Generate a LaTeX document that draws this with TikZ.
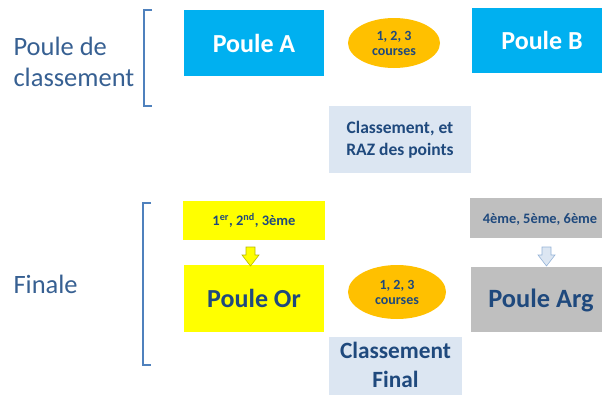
\documentclass[tikz,border=0pt]{standalone}
\usepackage{fontspec}
\setmainfont{Carlito}
\usetikzlibrary{shapes.geometric}
\definecolor{cyanbox}{HTML}{00B0F0}
\definecolor{ybox}{HTML}{FFFF00}
\definecolor{gbox}{HTML}{BFBFBF}
\definecolor{lbox}{HTML}{DCE6F2}
\definecolor{obox}{HTML}{FFC000}
\definecolor{dtext}{HTML}{1F497D}
\definecolor{ltext}{HTML}{376092}
\definecolor{brk}{HTML}{4F81BD}
\definecolor{yarr}{HTML}{B8B800}
\definecolor{garr}{HTML}{95B3D7}
\begin{document}
\begin{tikzpicture}[x=1pt,y=-1pt,
  box/.style={rectangle,inner sep=0pt,align=center,font=\bfseries},
  oval/.style={ellipse,fill=obox,inner sep=0pt,align=center,text=dtext,font=\bfseries\fontsize{14}{15}\selectfont},
  side/.style={anchor=west,align=left,text=ltext,font=\fontsize{26.5}{31}\selectfont},
  bracket/.style={draw=brk,line width=1.4pt}]
\useasboundingbox (0,0) rectangle (602,394);
% top section
\node[side] (lab1) at (10,62) {Poule de\\classement};
\coordinate (b1t) at (152,10);
\coordinate (b1b) at (152,106);
\draw[bracket] (b1t) -- ++(-8,0) |- (b1b);
\node[box,fill=cyanbox,text=white,minimum width=140pt,minimum height=66pt,font=\bfseries\fontsize{26}{28}\selectfont] (pa) at (254,43) {Poule A};
\node[oval,minimum width=92pt,minimum height=50pt] (c1) at (394,43) {1, 2, 3\\courses};
\node[box,fill=cyanbox,text=white,minimum width=130pt,minimum height=65pt,anchor=north west] (pb) at (472,8) {};
\node[text=white,font=\bfseries\fontsize{26}{28}\selectfont] (pbt) at (542,40.5) {Poule B};
\node[box,fill=lbox,text=dtext,minimum width=142pt,minimum height=67pt,font=\bfseries\fontsize{17.5}{22}\selectfont] (cl) at (400,139.5) {Classement, et\\RAZ des points};
% bottom section
\node[side] (lab2) at (10,284) {Finale};
\coordinate (b2t) at (151,203);
\coordinate (b2b) at (151,365);
\draw[bracket] (b2t) -- ++(-8,0) |- (b2b);
\node[box,fill=ybox,text=dtext,minimum width=142pt,minimum height=39pt,font=\bfseries\fontsize{14.5}{16}\selectfont] (q1) at (254,220.5) {1\textsuperscript{er}, 2\textsuperscript{nd}, 3ème};
\node[box,fill=ybox,text=dtext,minimum width=140pt,minimum height=67pt,font=\bfseries\fontsize{26}{28}\selectfont] (por) at (254,298.5) {Poule Or};
\node[box,fill=gbox,minimum width=132pt,minimum height=40pt,anchor=north west] (q2) at (470,198) {};
\node[text=dtext,font=\bfseries\fontsize{14.4}{16}\selectfont] (q2t) at (540,219) {4ème, 5ème, 6ème};
\node[box,fill=gbox,minimum width=131pt,minimum height=65pt,anchor=north west] (parg) at (471,267) {};
\node[text=dtext,font=\bfseries\fontsize{26.4}{28}\selectfont] (pargt) at (541,300) {Poule Arg};
\node[oval,minimum width=98pt,minimum height=54pt] (c2) at (397,292) {1, 2, 3\\courses};
\node[box,fill=lbox,minimum width=133pt,minimum height=62pt,anchor=north west] (cf) at (329,337) {};
\node[text=dtext,align=center,font=\bfseries\fontsize{23.3}{29}\selectfont,anchor=north,inner sep=0pt] (cft) at (395.5,342) {Classement\\Final};
% block arrows
\draw[fill=ybox,draw=yarr,line width=0.6pt] (246,247) -- (255,247) -- (255,255) -- (259,255) -- (250.5,266) -- (242,255) -- (246,255) -- cycle;
\draw[fill=lbox,draw=garr,line width=0.6pt] (542,247) -- (551,247) -- (551,255) -- (555,255) -- (546.5,266) -- (538,255) -- (542,255) -- cycle;
\end{tikzpicture}
\end{document}
